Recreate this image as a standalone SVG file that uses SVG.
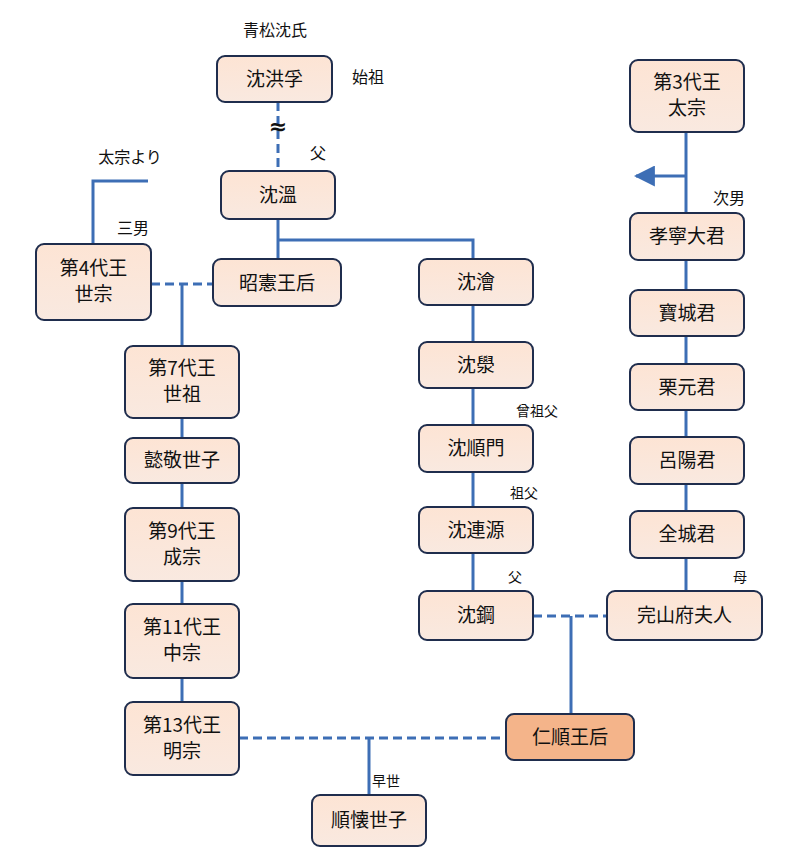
<svg xmlns="http://www.w3.org/2000/svg" width="800" height="868" viewBox="0 0 800 868">
<defs>
<linearGradient id="g" x1="0" y1="0" x2="0" y2="1"><stop offset="0" stop-color="#fde4d4"/><stop offset="1" stop-color="#f9e9e0"/></linearGradient>
<marker id="ar" viewBox="0 0 10 10" refX="9" refY="5" markerWidth="7" markerHeight="7" orient="auto"><path d="M0,0L10,5L0,10z" fill="#3d6eb5"/></marker>
</defs>
<style>
.n rect{fill:url(#g);stroke:#1f2d4d;stroke-width:2}
.n.hi rect{fill:#f4b48a}
text{font-family:"Noto Sans CJK JP","Noto Sans CJK SC",sans-serif;fill:#111;text-anchor:middle}
.n text{font-size:19px}
.l{font-size:16px}
.s{font-size:14px}
#c line,#c path{stroke:#3d6eb5;stroke-width:3;fill:none}
#c .d{stroke-dasharray:9,5}
</style>
<rect width="800" height="868" fill="#fff"/>
<g id="c">
<line class="d" x1="278" y1="102" x2="278" y2="171"/>
<line x1="278" y1="219" x2="278" y2="259"/>
<path d="M278,240H473V259"/>
<line class="d" x1="151" y1="284" x2="213" y2="284"/>
<line x1="182" y1="284" x2="182" y2="346"/>
<line x1="182" y1="418" x2="182" y2="438"/>
<line x1="182" y1="483" x2="182" y2="508"/>
<line x1="182" y1="581" x2="182" y2="604"/>
<line x1="182" y1="678" x2="182" y2="702"/>
<path d="M148,181H93V244"/>
<line x1="473" y1="305" x2="473" y2="342"/>
<line x1="473" y1="388" x2="473" y2="425"/>
<line x1="473" y1="472" x2="473" y2="507"/>
<line x1="473" y1="553" x2="473" y2="591"/>
<line x1="686" y1="132" x2="686" y2="213"/>
<line x1="686" y1="176" x2="636" y2="176" marker-end="url(#ar)"/>
<line x1="686" y1="260" x2="686" y2="290"/>
<line x1="686" y1="336" x2="686" y2="364"/>
<line x1="686" y1="410" x2="686" y2="437"/>
<line x1="686" y1="484" x2="686" y2="511"/>
<line x1="686" y1="558" x2="686" y2="591"/>
<line class="d" x1="533" y1="616" x2="607" y2="616"/>
<line x1="571" y1="616" x2="571" y2="714"/>
<line class="d" x1="239" y1="738" x2="506" y2="738"/>
<line x1="369" y1="738" x2="369" y2="795"/>
</g>
<text x="278" y="134" style="font-size:22px;font-family:'DejaVu Sans',sans-serif;font-weight:bold">≈</text>
<g id="n1" class="n"><rect x="217" y="56" width="115" height="46" rx="8"/><text x="274.5" y="86">沈洪孚</text></g>
<g id="n2" class="n"><rect x="221" y="171" width="114" height="48" rx="8"/><text x="278" y="202">沈溫</text></g>
<g id="n3" class="n"><rect x="213" y="259" width="128" height="47" rx="8"/><text x="277" y="290">昭憲王后</text></g>
<g id="n4" class="n"><rect x="419" y="259" width="114" height="46" rx="8"/><text x="476" y="289">沈澮</text></g>
<g id="n5" class="n"><rect x="36" y="244" width="115" height="76" rx="8"/><text x="93.5" y="275">第4代王</text><text x="93.5" y="301">世宗</text></g>
<g id="n6" class="n"><rect x="125" y="346" width="114" height="72" rx="8"/><text x="182" y="375">第7代王</text><text x="182" y="401">世祖</text></g>
<g id="n7" class="n"><rect x="125" y="438" width="114" height="45" rx="8"/><text x="182" y="467">懿敬世子</text></g>
<g id="n8" class="n"><rect x="125" y="508" width="114" height="73" rx="8"/><text x="182" y="538">第9代王</text><text x="182" y="564">成宗</text></g>
<g id="n9" class="n"><rect x="125" y="604" width="114" height="74" rx="8"/><text x="182" y="634">第11代王</text><text x="182" y="660">中宗</text></g>
<g id="n10" class="n"><rect x="125" y="702" width="114" height="73" rx="8"/><text x="182" y="732">第13代王</text><text x="182" y="758">明宗</text></g>
<g id="n11" class="n"><rect x="312" y="795" width="114" height="51" rx="8"/><text x="369" y="827">順懐世子</text></g>
<g id="n12" class="n"><rect x="419" y="342" width="114" height="46" rx="8"/><text x="476" y="372">沈澩</text></g>
<g id="n13" class="n"><rect x="419" y="425" width="114" height="47" rx="8"/><text x="476" y="455">沈順門</text></g>
<g id="n14" class="n"><rect x="419" y="507" width="114" height="46" rx="8"/><text x="476" y="537">沈連源</text></g>
<g id="n15" class="n"><rect x="419" y="591" width="114" height="49" rx="8"/><text x="476" y="622">沈鋼</text></g>
<g id="n16" class="n hi"><rect x="506" y="714" width="128" height="46" rx="8"/><text x="570" y="744">仁順王后</text></g>
<g id="n17" class="n"><rect x="630" y="60" width="114" height="72" rx="8"/><text x="687" y="89">第3代王</text><text x="687" y="115">太宗</text></g>
<g id="n18" class="n"><rect x="630" y="213" width="114" height="47" rx="8"/><text x="687" y="243">孝寧大君</text></g>
<g id="n19" class="n"><rect x="630" y="290" width="114" height="46" rx="8"/><text x="687" y="320">寶城君</text></g>
<g id="n20" class="n"><rect x="630" y="364" width="114" height="46" rx="8"/><text x="687" y="394">栗元君</text></g>
<g id="n21" class="n"><rect x="630" y="437" width="114" height="47" rx="8"/><text x="687" y="467">呂陽君</text></g>
<g id="n22" class="n"><rect x="630" y="511" width="114" height="47" rx="8"/><text x="687" y="541">全城君</text></g>
<g id="n23" class="n"><rect x="607" y="591" width="155" height="49" rx="8"/><text x="684.5" y="622">完山府夫人</text></g>
<text class="l" x="275" y="36">青松沈氏</text>
<text class="l" x="368" y="83">始祖</text>
<text class="l" x="318" y="159">父</text>
<text class="l" x="130" y="163">太宗より</text>
<text class="l" x="133" y="234">三男</text>
<text class="l" x="729" y="204">次男</text>
<text class="s" x="537" y="416">曾祖父</text>
<text class="s" x="524" y="498">祖父</text>
<text class="s" x="515" y="582">父</text>
<text class="s" x="740" y="582">母</text>
<text class="s" x="386" y="786">早世</text>
</svg>
